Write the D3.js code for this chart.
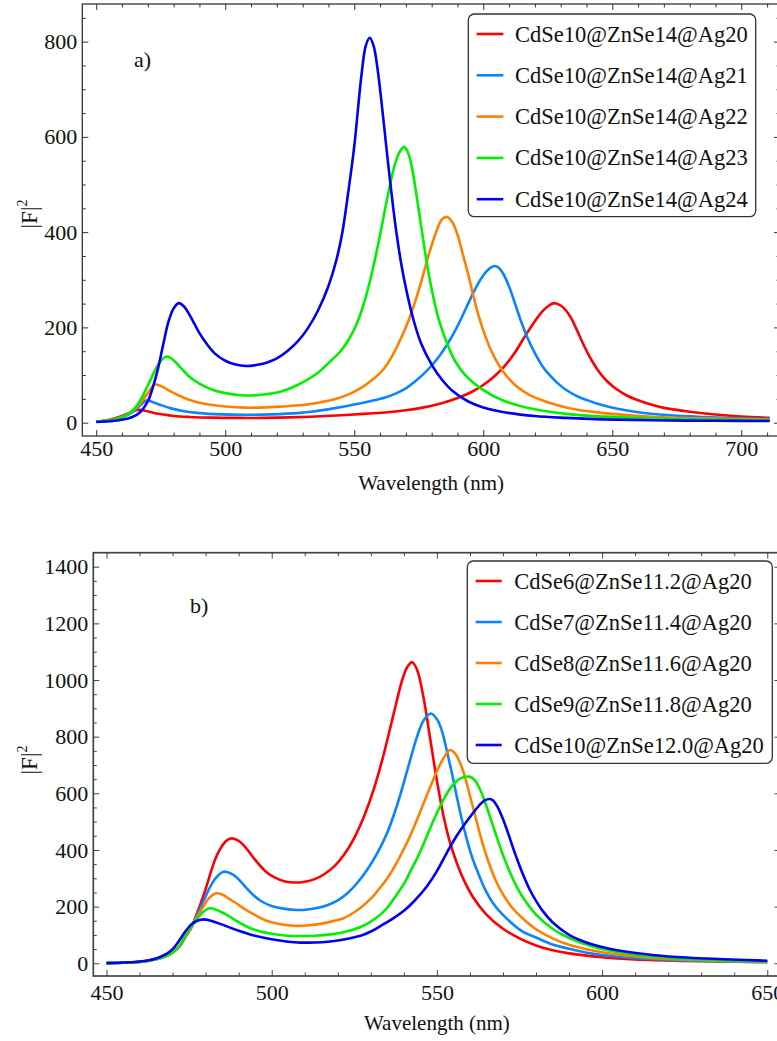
<!DOCTYPE html>
<html>
<head>
<meta charset="utf-8">
<script src="https://cdn.jsdelivr.net/npm/d3@7"></script>
<style>
  html, body { margin: 0; padding: 0; background: #fff; }
  svg { display: block; }
  text { font-family: 'Liberation Serif', 'Times New Roman', serif; }
</style>
</head>
<body>
<svg id="chart" width="777" height="1041"></svg>
<script>
// ---------------- DATA ----------------
// Panel a: [wavelength nm, |F|^2]
const aAg20 = [[450,2],[455,6],[460,14],[463,21],[466.5,27],[469,25],[472,21],[476,17],[480,14],[486,12],[495,10.5],[505,10],[515,10],[525,11],[535,13],[545,15.5],[555,19],[563,22],[570,26],[576,31],[582,38],[587,46],[592,56],[596,66],[600,79],[604,96],[608,117],[612,145],[616,180],[620,213],[623,234],[625.5,246],[627.5,251],[630,246],[632,236],[634,220],[636,198],[639,162],[642,131],[645,106],[648,87],[652,69],[656,56],[660,47],[665,38],[670,31],[680,23],[690,17],[700,13],[711,10]];
const aAg21 = [[450,2],[455,5],[460,11],[464,22],[467,36],[469.7,47],[472,43],[475,37],[479,30],[484,24],[490,20],[498,17.5],[508,16.5],[518,17.5],[528,20],[535,24],[542,30],[550,38],[556,45],[562,53],[566,61],[570,72],[573,84],[577,103],[580,120],[583,140],[586,164],[589,192],[592,225],[595,260],[598,292],[601,316],[603,326],[604.5,329],[606,325],[608,310],[610,286],[612,255],[614.5,215],[617,180],[620,146],[623,118],[626,98],[629,82],[632.6,67],[637,54],[642,44],[646,37],[652,29],[660,22],[671.5,16],[685,12],[698,9.5],[711,8]];
const aAg22 = [[450,2],[455,5],[460,12],[464,24],[467,40],[470,62],[472.7,80],[475,77],[478,68],[482,57],[486,48],[490,42],[495,37],[500,34],[508,31.5],[515,32],[522,34],[530,37],[537,43],[543,50],[548,60],[553,74],[557,90],[561,110],[565,143],[568,176],[571,214],[574,261],[577,316],[579,355],[582,404],[584,427],[586,432],[588,421],[590,395],[592,355],[594,315],[596,270],[598,228],[600.5,186],[603,152],[606,121],[609,98],[613,76],[618,58],[625,43],[633,31],[645,21],[658,15],[675,10],[695,8],[711,6.5]];
const aAg23 = [[450,2],[455,5],[460,12],[464,25],[467,46],[470,78],[473,112],[475,130],[477.4,139],[480,131],[483,114],[486,97],[490,82],[495,69],[500,62],[508,57],[515,59],[522,66],[528,79],[535,101],[540,125],[545,152],[548,176],[550,196],[552,222],[554,255],[557,318],[560,394],[563,477],[566,547],[568,572],[569.3,579],[570.5,571],[572,545],[574,482],[576,410],[578.6,320],[581,255],[583,212],[586,166],[589,130],[593,100],[599,72],[607,48],[620,28],[633,18],[658,10],[685,6.5],[711,5]];
const aAg24 = [[450,1.5],[455,3],[460,6],[464,12],[467,22],[470,45],[472,75],[474,115],[476,165],[478,212],[480,240],[482,251],[484,244],[486,228],[488,208],[490,188],[493,164],[496,145],[500,130],[504,122],[508,119],[512,121],[516,126],[520,135],[524,150],[528,170],[532,198],[536,236],[540,287],[543,340],[545.4,400],[547.7,485],[550,580],[552.8,730],[554.5,792],[556,808],[557.5,791],[559,744],[561,651],[563,550],[565.7,425],[568,340],[570,283],[573,215],[576,165],[580,122],[584,90],[588,67],[594,45],[600,32],[607,23],[620,14],[632,10],[646,7],[665,5],[690,4],[711,3.5]];

// Panel b
const bCdSe6 = [[450,0.5],[455,2],[460,5],[465,14],[468,25],[470,38],[472,58],[474,95],[476,133],[477,165],[478,195],[479,228],[480,262],[481,300],[483,370],[485,415],[486.5,435],[488,441],[490,432],[492,410],[495,365],[498,326],[501,302],[504,289],[507,285],[510,288],[513,297],[516,315],[519,343],[522,385],[525,443],[528,520],[531,618],[534,742],[537,885],[539.5,1000],[541,1045],[542.5,1063],[544,1036],[546,935],[548,790],[550,645],[552,520],[554,425],[556,355],[558,298],[561,232],[565,172],[570,122],[575,88],[580,63],[585,46],[590,35],[600,21],[610,13],[625,8],[650,4]];
const bCdSe7 = [[450,0.5],[455,2],[460,5],[465,14],[468,25],[470,38],[472,60],[474,98],[476,135],[477,160],[478,185],[479,210],[480,236],[481,262],[483,300],[485.4,323],[487.5,318],[489.5,302],[492,270],[494.5,240],[497,218],[500,202],[504,192],[507.7,188],[511,190],[514,196],[517,206],[520,222],[523,248],[526,285],[529,332],[532,390],[535,462],[537,525],[539,598],[541,680],[544,800],[546,858],[548.2,882],[550,862],[551.5,821],[553,750],[554.6,668],[556,590],[557.6,505],[559,440],[560.6,376],[562.5,318],[564.7,258],[567,212],[569.7,174],[573,138],[576,112],[580,91],[585,66],[590,51],[595,38],[600,29],[610,18],[620,12],[635,7],[650,4.5]];
const bCdSe8 = [[450,0.5],[455,2],[460,5],[465,14],[468,25],[470,38],[472,60],[474,98],[476,135],[477,155],[478,175],[479,195],[480,213],[481,230],[483.2,247],[485,243],[487,228],[489.5,210],[492,190],[495,170],[498,152],[501.6,140],[505,134],[508.2,132],[511.5,134],[514.8,139],[518,147],[521.9,160],[525,180],[527,197],[530,228],[532,255],[535,300],[537,338],[539.5,392],[542,452],[544.5,522],[547.2,600],[549.5,665],[551.2,707],[552.5,733],[554,753],[555.5,740],[557.6,690],[560.6,565],[563.7,428],[565.5,362],[567.7,295],[570,243],[572.8,196],[576,158],[579.9,121],[585,88],[590,65],[595,50],[600,39],[610,24],[620.3,15],[635,9],[650,5]];
const bCdSe9 = [[450,0.5],[455,2],[460,5],[465,14],[468,25],[470,38],[472,60],[474,100],[476,135],[477,150],[478,165],[479,178],[480,188],[481.2,194],[483,190],[486.4,171],[489,152],[491.5,135],[494,122],[496.6,112],[500,104],[504,98],[508.7,96],[513,97],[518,102],[522,110],[526.9,128],[530,147],[532,163],[535,196],[537,228],[540,280],[542,325],[544.4,380],[547,450],[549.5,518],[552,578],[554.6,626],[557,652],[559.8,659],[561.5,646],[563,615],[564.5,571],[566,520],[567.5,467],[569,415],[570.5,367],[572,324],[574,274],[576,233],[580,172],[585,122],[590,89],[595,67],[600,50],[610,30],[620.3,19],[635,11],[650,6]];
const bCdSe10 = [[450,0.5],[455,2.5],[460,6],[465,17],[468,32],[470,50],[472,80],[474,115],[476,140],[477.5,150],[479.4,155],[481,152],[483,145],[486,132],[490,115],[494,100],[498,89],[502,81],[505,76],[508.7,73],[513,73.5],[517,76],[521,82],[524,89],[526.9,97],[530,112],[533,132],[537,160],[540,185],[543,218],[547,272],[550,325],[553,390],[556,450],[559.6,510],[562.7,556],[564.5,575],[565.9,580],[567,575],[568.5,549],[570,509],[571.5,461],[573,409],[574.5,360],[576,315],[578,262],[580,220],[582,185],[585,145],[590,100],[595,74],[600,57],[605,45],[610.2,36],[620.3,24],[635,15],[650,9]];

const seriesA = [aAg20, aAg21, aAg22, aAg23, aAg24];
const seriesB = [bCdSe6, bCdSe7, bCdSe8, bCdSe9, bCdSe10];
const legendA = ["CdSe10@ZnSe14@Ag20","CdSe10@ZnSe14@Ag21","CdSe10@ZnSe14@Ag22","CdSe10@ZnSe14@Ag23","CdSe10@ZnSe14@Ag24"];
const legendB = ["CdSe6@ZnSe11.2@Ag20","CdSe7@ZnSe11.4@Ag20","CdSe8@ZnSe11.6@Ag20","CdSe9@ZnSe11.8@Ag20","CdSe10@ZnSe12.0@Ag20"];
const colors = ["#ff0000","#0a84ff","#ff8000","#00f000","#0000f5"];

const xTicksA = [450,500,550,600,650,700];
const yTicksA = [0,200,400,600,800];
const xTicksB = [450,500,550,600,650];
const yTicksB = [0,200,400,600,800,1000,1200,1400];
const xLabel = "Wavelength (nm)";
const panelTags = ["a)", "b)"];

// ---------------- DRAWING ----------------
const svg = d3.select("#chart");
const FONT = "'Liberation Serif','Times New Roman',serif";

function panel(cfg) {
  const g = svg.append("g");
  const x = d3.scaleLinear().domain(cfg.xDom).range([cfg.x0, cfg.x1]);
  const y = d3.scaleLinear().domain(cfg.yDom).range([cfg.y1, cfg.y0]);
  const frameColor = cfg.frameColor;

  const clipId = "clip" + cfg.id;
  svg.append("defs").append("clipPath").attr("id", clipId)
    .append("rect").attr("x", cfg.x0).attr("y", cfg.y0)
    .attr("width", cfg.x1 - cfg.x0).attr("height", cfg.y1 - cfg.y0);

  const line = d3.line().x(d => x(d[0])).y(d => y(d[1])).curve(d3.curveCatmullRom.alpha(0.5));
  const cg = g.append("g").attr("clip-path", `url(#${clipId})`);
  cfg.series.forEach((s, i) => {
    cg.append("path").datum(s).attr("d", line)
      .attr("fill", "none").attr("stroke", colors[i])
      .attr("stroke-width", 2.6).attr("stroke-linejoin", "round");
  });

  const xMinor = d3.range(Math.ceil(cfg.xDom[0] / 10) * 10, cfg.xDom[1] + 0.01, 10).filter(v => v % 50 !== 0);
  const yMinor = d3.range(Math.ceil(cfg.yDom[0] / 50) * 50, cfg.yDom[1] + 0.01, 50).filter(v => v % 200 !== 0);
  const yMajorAll = d3.range(Math.ceil(cfg.yDom[0] / 200) * 200, cfg.yDom[1] + 0.01, 200);

  const MAJ = 6, MIN = 3.5;
  function styleAxis(sel) {
    sel.attr("font-family", null).attr("font-size", null);
    sel.select(".domain").remove();
    sel.selectAll("line").attr("stroke", frameColor).attr("stroke-width", 1);
    sel.selectAll("text").style("font-family", FONT).style("font-size", "22px").attr("fill", "#111");
  }
  g.append("g").attr("transform", `translate(0,${cfg.y1})`)
    .call(d3.axisBottom(x).tickValues(cfg.xTicks).tickSize(-MAJ).tickPadding(cfg.xPad).tickFormat(d3.format("d")))
    .call(styleAxis);
  g.append("g").attr("transform", `translate(0,${cfg.y1})`)
    .call(d3.axisBottom(x).tickValues(xMinor).tickSize(-MIN).tickFormat(""))
    .call(styleAxis);
  g.append("g").attr("transform", `translate(0,${cfg.y0})`)
    .call(d3.axisTop(x).tickValues(cfg.xTicks).tickSize(-MAJ).tickFormat(""))
    .call(styleAxis);
  g.append("g").attr("transform", `translate(0,${cfg.y0})`)
    .call(d3.axisTop(x).tickValues(xMinor).tickSize(-MIN).tickFormat(""))
    .call(styleAxis);
  g.append("g").attr("transform", `translate(${cfg.x0},0)`)
    .call(d3.axisLeft(y).tickValues(cfg.yTicks).tickSize(-MAJ).tickPadding(5).tickFormat(d3.format("d")))
    .call(styleAxis);
  g.append("g").attr("transform", `translate(${cfg.x0},0)`)
    .call(d3.axisLeft(y).tickValues(yMinor).tickSize(-MIN).tickFormat(""))
    .call(styleAxis);
  g.append("g").attr("transform", `translate(${cfg.x1},0)`)
    .call(d3.axisRight(y).tickValues(yMajorAll).tickSize(-MAJ).tickFormat(""))
    .call(styleAxis);
  g.append("g").attr("transform", `translate(${cfg.x1},0)`)
    .call(d3.axisRight(y).tickValues(yMinor).tickSize(-MIN).tickFormat(""))
    .call(styleAxis);

  g.append("rect").attr("x", cfg.x0).attr("y", cfg.y0)
    .attr("width", cfg.x1 - cfg.x0).attr("height", cfg.y1 - cfg.y0)
    .attr("fill", "none").attr("stroke", frameColor).attr("stroke-width", cfg.frameWidth);

  g.append("text").attr("x", (cfg.x0 + cfg.x1) / 2).attr("y", cfg.xTitleY)
    .attr("text-anchor", "middle").style("font-family", FONT).style("font-size", "21px")
    .attr("fill", "#111").text(xLabel);
  const yt = g.append("text")
    .attr("transform", `translate(${cfg.yTitleX},${cfg.yTitleCY}) rotate(-90)`)
    .attr("text-anchor", "middle").style("font-family", FONT).style("font-size", "23px").attr("fill", "#111");
  yt.append("tspan").text("|F|");
  yt.append("tspan").style("font-size", "14px").attr("dy", -10).text("2");

  g.append("text").attr("x", cfg.tagX).attr("y", cfg.tagY)
    .style("font-family", FONT).style("font-size", "22px").attr("fill", "#111").text(cfg.tag);

  const L = cfg.legend;
  g.append("rect").attr("x", L.x0).attr("y", L.y0).attr("width", L.x1 - L.x0).attr("height", L.y1 - L.y0)
    .attr("rx", 6).attr("fill", "#fff").attr("stroke", "#333").attr("stroke-width", 1.3);
  L.labels.forEach((lab, i) => {
    const ry = L.row0 + i * L.step;
    g.append("line").attr("x1", L.lx0).attr("x2", L.lx1).attr("y1", ry).attr("y2", ry)
      .attr("stroke", colors[i]).attr("stroke-width", 2.6);
    g.append("text").attr("x", L.tx).attr("y", ry + 7.5)
      .style("font-family", FONT).style("font-size", "22.5px").attr("fill", "#111").text(lab);
  });
}

panel({
  id: "A", series: seriesA,
  xDom: [444.6, 715], yDom: [-28, 879],
  x0: 82.3, x1: 780, y0: 4, y1: 436,
  xTicks: xTicksA, yTicks: yTicksA, xPad: 4,
  frameColor: "#333", frameWidth: 1.3,
  xTitleY: 490, yTitleX: 37, yTitleCY: 214,
  tag: panelTags[0], tagX: 134, tagY: 67,
  legend: { x0: 468.3, x1: 755.7, y0: 14, y1: 216.7, lx0: 476.7, lx1: 503.3, tx: 515, row0: 34, step: 41.3, labels: legendA }
});

panel({
  id: "B", series: seriesB,
  xDom: [446, 654], yDom: [-45, 1449.5],
  x0: 93.3, x1: 780.5, y0: 552.7, y1: 976,
  xTicks: xTicksB, yTicks: yTicksB, xPad: 8,
  frameColor: "#444", frameWidth: 1.7,
  xTitleY: 1030, yTitleX: 37, yTitleCY: 760,
  tag: panelTags[1], tagX: 190, tagY: 613,
  legend: { x0: 467.3, x1: 772.3, y0: 561, y1: 763.3, lx0: 475.7, lx1: 501.7, tx: 514.3, row0: 581, step: 41, labels: legendB }
});
</script>
</body>
</html>
